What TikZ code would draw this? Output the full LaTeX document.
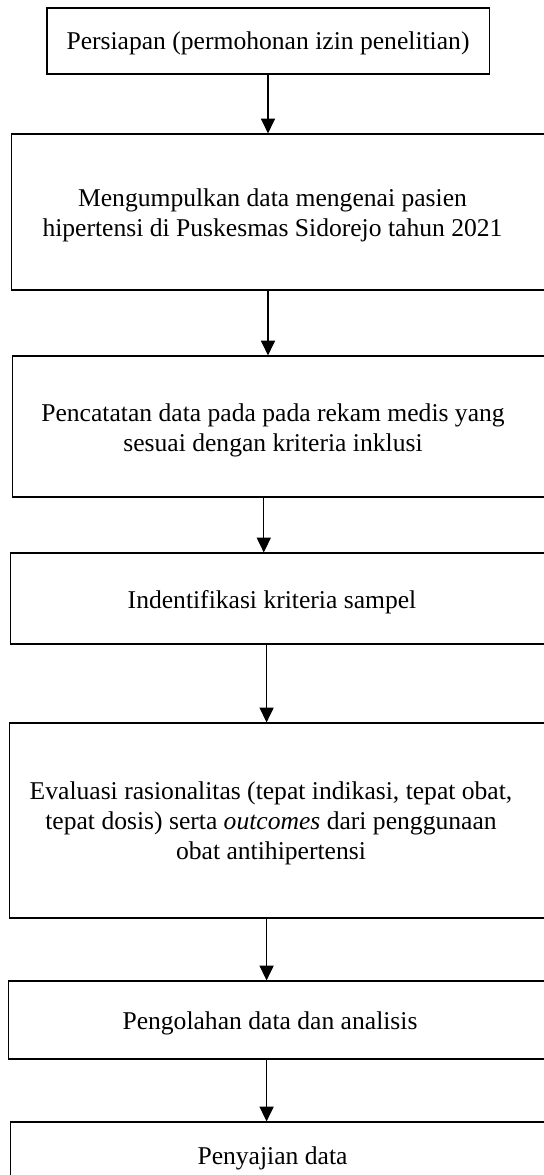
\documentclass[tikz,border=0pt]{standalone}
\usepackage{fontspec}
\setmainfont{Liberation Serif}
\usepackage{tikz}
\usetikzlibrary{arrows.meta}
\tikzset{
    kotak/.style={draw=black, line width=0.8pt, rectangle, inner sep=0pt},
    teks/.style={inner sep=0pt, align=center, text depth=0pt, font=\fontsize{18.2}{21.3}\selectfont},
    panah/.style={-{Triangle[width=10pt,length=10.5pt]}, line width=0.8pt}
}

\begin{document}
\begin{tikzpicture}[x=0.025cm, y=-0.025cm]
    \clip (0,0) rectangle (544,1175);
    \node[kotak, teks, minimum width=11.05cm, minimum height=1.65cm] (b1) at (268,41) {Persiapan (permohonan izin penelitian)};
    \node[kotak, minimum width=13.95cm, minimum height=3.9cm] (b2) at (291,212) {};
    \node[kotak, minimum width=13.925cm, minimum height=3.525cm] (b3) at (291.5,426.5) {};
    \node[kotak, minimum width=13.975cm, minimum height=2.275cm] (b4) at (290.5,598.5) {};
    \node[kotak, minimum width=14cm, minimum height=4.875cm] (b5) at (290,820.5) {};
    \node[kotak, minimum width=14.025cm, minimum height=1.95cm] (b6) at (289.5,1020) {};
    \node[kotak, minimum width=13.975cm, minimum height=1.7cm] (b7) at (290.5,1156) {};
    % isi kotak
    \node[teks] (t2) at (272.5,213) {Mengumpulkan data mengenai pasien\\hipertensi di Puskesmas Sidorejo tahun 2021};
    \node[teks] (t3) at (273,427.5) {Pencatatan data pada pada rekam medis yang\\sesuai dengan kriteria inklusi};
    \node[teks] (t4) at (272,599.5) {Indentifikasi kriteria sampel};
    \node[teks] (t5) at (271,821) {Evaluasi rasionalitas (tepat indikasi, tepat obat,\\tepat dosis) serta \textit{outcomes} dari penggunaan\\obat antihipertensi};
    \node[teks] (t6) at (270,1020.5) {Pengolahan data dan analisis};
    \node[teks] (t7) at (272.5,1156) {Penyajian data};
    % panah
    \draw[panah] (b1.south) -- (b1.south |- b2.north);
    \draw[panah] (b2.south -| b1.south) -- (b3.north -| b1.south);
    \draw[panah] ([xshift=-3]b3.south -| b1.south) -- ([xshift=-3]b4.north -| b1.south);
    \draw[panah] ([xshift=-1]b4.south -| b1.south) -- ([xshift=-1]b5.north -| b1.south);
    \draw[panah] ([xshift=-1]b5.south -| b1.south) -- ([xshift=-1]b6.north -| b1.south);
    \draw[panah] ([xshift=-1]b6.south -| b1.south) -- ([xshift=-1]b7.north -| b1.south);
\end{tikzpicture}
\end{document}
